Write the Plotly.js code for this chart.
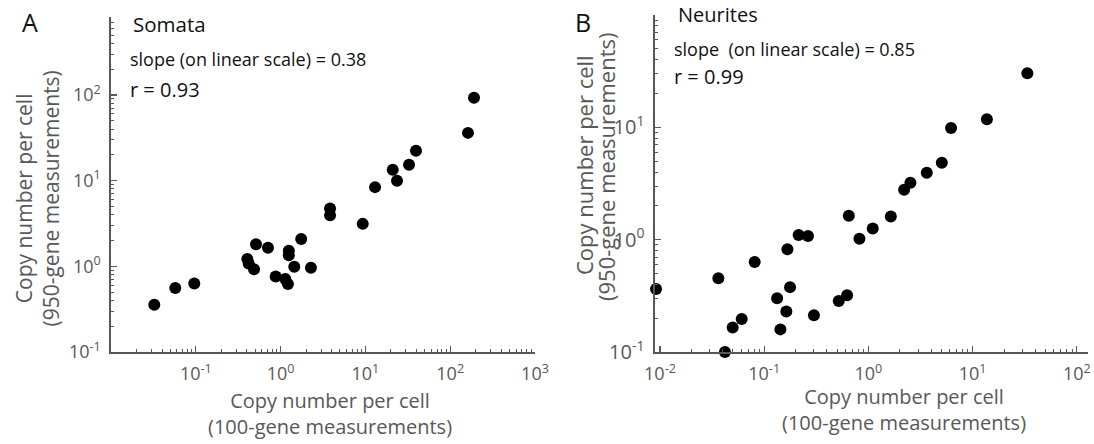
<!DOCTYPE html>
<html>
<head>
<meta charset="utf-8">
<script src="https://cdn.plot.ly/plotly-3.0.1.min.js"></script>
<style>html,body{margin:0;padding:0;background:#fff}#chart{width:1094px;height:444px}</style>
</head>
<body>
<div id="chart"></div>
<script>
// ---- Data ----
const somataX = [0.0324, 0.0573, 0.096, 0.405, 0.42, 0.486, 0.513, 0.71, 0.875, 1.135, 1.22, 1.25, 1.25, 1.45, 1.75, 2.28, 3.83, 3.83, 9.3, 13, 21, 23.6, 32.7, 39.5, 162, 191];
const somataY = [0.357, 0.56, 0.63, 1.22, 1.08, 0.925, 1.81, 1.65, 0.76, 0.71, 0.62, 1.52, 1.35, 0.99, 2.08, 0.96, 4.72, 3.95, 3.13, 8.4, 13.4, 9.95, 15.3, 22.3, 36.1, 92.7];

const neuritesX = [0.00916, 0.0363, 0.042, 0.0498, 0.0608, 0.081, 0.133, 0.143, 0.163, 0.167, 0.177, 0.214, 0.263, 0.30, 0.519, 0.624, 0.648, 0.82, 1.10, 1.64, 2.20, 2.53, 3.63, 5.06, 6.21, 13.7, 33.5];
const neuritesY = [0.364, 0.454, 0.1, 0.165, 0.197, 0.634, 0.301, 0.159, 0.229, 0.822, 0.378, 1.10, 1.08, 0.212, 0.285, 0.32, 1.63, 1.02, 1.26, 1.61, 2.78, 3.21, 3.94, 4.83, 9.86, 11.8, 30.3];

const xTickValsA = [0.1, 1, 10, 100, 1000];
const xTickTextA = ['10<sup>-1</sup>', '10<sup>0</sup>', '10<sup>1</sup>', '10<sup>2</sup>', '10<sup>3</sup>'];
const yTickValsA = [0.1, 1, 10, 100];
const yTickTextA = ['10<sup>-1</sup>', '10<sup>0</sup>', '10<sup>1</sup>', '10<sup>2</sup>'];
const xTickValsB = [0.01, 0.1, 1, 10, 100];
const xTickTextB = ['10<sup>-2</sup>', '10<sup>-1</sup>', '10<sup>0</sup>', '10<sup>1</sup>', '10<sup>2</sup>'];
const yTickValsB = [0.1, 1, 10, 100];
const yTickTextB = ['10<sup>-1</sup>', '10<sup>0</sup>', '10<sup>1</sup>', '10<sup>2</sup>'];

const panelLabels = ['A', 'B'];
const panelTitles = ['Somata', 'Neurites'];
const slopeTexts = ['slope (on linear scale) = 0.38', 'slope\u00a0 (on linear scale) = 0.85'];
const rTexts = ['r = 0.93', 'r = 0.99'];
const xTitleLines = ['Copy number per cell', '(100-gene measurements)'];
const yTitleLines = ['Copy number per cell', '(950-gene measurements)'];

// ---- Styling ----
const W = 1094, H = 444;
const FONT = '"Open Sans", "Noto Sans", sans-serif';
const GREY = '#585858';
function px(x) { return x / W; }
function py(y) { return 1 - y / H; }
function minorVals(lo, hi) {
  const v = [];
  for (let e = lo; e < hi; e++) for (let d = 2; d <= 9; d++) v.push(d * Math.pow(10, e));
  return v;
}
function axisBase(extra, fsize) {
  return Object.assign({
    type: 'log',
    showline: true, linecolor: GREY, linewidth: 1.6,
    ticks: 'inside', ticklen: 6, tickwidth: 1.3, tickcolor: GREY,
    tickmode: 'array',
    showgrid: false, zeroline: false, mirror: false,
    tickfont: { family: FONT, size: fsize || 18, color: GREY },
    ticklabelstandoff: 5,
    minor: { ticks: 'inside', ticklen: 3, tickwidth: 1, tickcolor: GREY, tickmode: 'array', showgrid: false },
    fixedrange: true
  }, extra);
}

const traces = [
  { x: somataX, y: somataY, xaxis: 'x', yaxis: 'y', type: 'scatter', mode: 'markers', cliponaxis: false,
    marker: { color: '#000', size: 12 }, hoverinfo: 'x+y' },
  { x: neuritesX, y: neuritesY, xaxis: 'x2', yaxis: 'y2', type: 'scatter', mode: 'markers', cliponaxis: false,
    marker: { color: '#000', size: 12 }, hoverinfo: 'x+y' }
];

const xa = axisBase({ domain: [px(111), px(535)], range: [-2, 3], anchor: 'y',
  tickvals: xTickValsA, ticktext: xTickTextA });
xa.minor = Object.assign({}, xa.minor, { tickvals: minorVals(-2, 3) });
const ya = axisBase({ domain: [py(352), py(17)], range: [-1, 2.91], anchor: 'x',
  tickvals: yTickValsA, ticktext: yTickTextA });
ya.minor = Object.assign({}, ya.minor, { tickvals: minorVals(-1, 3) });
const xb = axisBase({ domain: [px(655), px(1088)], range: [-2.048, 2.107], anchor: 'y2',
  tickvals: xTickValsB, ticktext: xTickTextB });
xb.minor = Object.assign({}, xb.minor, { tickvals: minorVals(-3, 3) });
const yb = axisBase({ domain: [py(352), py(15)], range: [-1, 2], anchor: 'x2',
  tickvals: yTickValsB, ticktext: yTickTextB }, 20);
yb.minor = Object.assign({}, yb.minor, { tickvals: minorVals(-1, 2) });

function ann(text, x, y, size, opts) {
  return Object.assign({ text: text, x: px(x), y: py(y), xref: 'paper', yref: 'paper',
    showarrow: false, xanchor: 'left', yanchor: 'middle',
    font: { family: FONT, size: size, color: '#111' } }, opts || {});
}
function titleAnn(text, x, y, size, rot) {
  return ann(text, x, y, size, { xanchor: 'center', textangle: rot ? -90 : 0,
    font: { family: FONT, size: size, color: GREY } });
}

const annotations = [
  ann(panelLabels[0], 30, 22, 25, { xanchor: 'center' }),
  ann(panelLabels[1], 583, 22, 25, { xanchor: 'center' }),
  ann(panelTitles[0], 131, 24, 20.5),
  ann(slopeTexts[0], 128, 59, 18),
  ann(rTexts[0], 128, 89, 20),
  ann(panelTitles[1], 676, 15, 20),
  ann(slopeTexts[1], 672, 49, 18),
  ann(rTexts[1], 672, 76, 20),
  titleAnn(xTitleLines.join('<br>'), 330, 413, 20),
  titleAnn(xTitleLines.join('<br>'), 904, 409, 20),
  titleAnn(yTitleLines.join('<br>'), 36.5, 199, 21, true),
  titleAnn(yTitleLines[0], 584, 165, 22, true),
  titleAnn(yTitleLines[1], 606, 167, 22, true)
];

const layout = {
  width: W, height: H,
  margin: { l: 0, r: 0, t: 0, b: 0 },
  paper_bgcolor: '#fff', plot_bgcolor: '#fff',
  showlegend: false,
  xaxis: xa, yaxis: ya, xaxis2: xb, yaxis2: yb,
  annotations: annotations,
  font: { family: FONT }
};

Plotly.newPlot('chart', traces, layout, { staticPlot: true, displayModeBar: false });
</script>
</body>
</html>
